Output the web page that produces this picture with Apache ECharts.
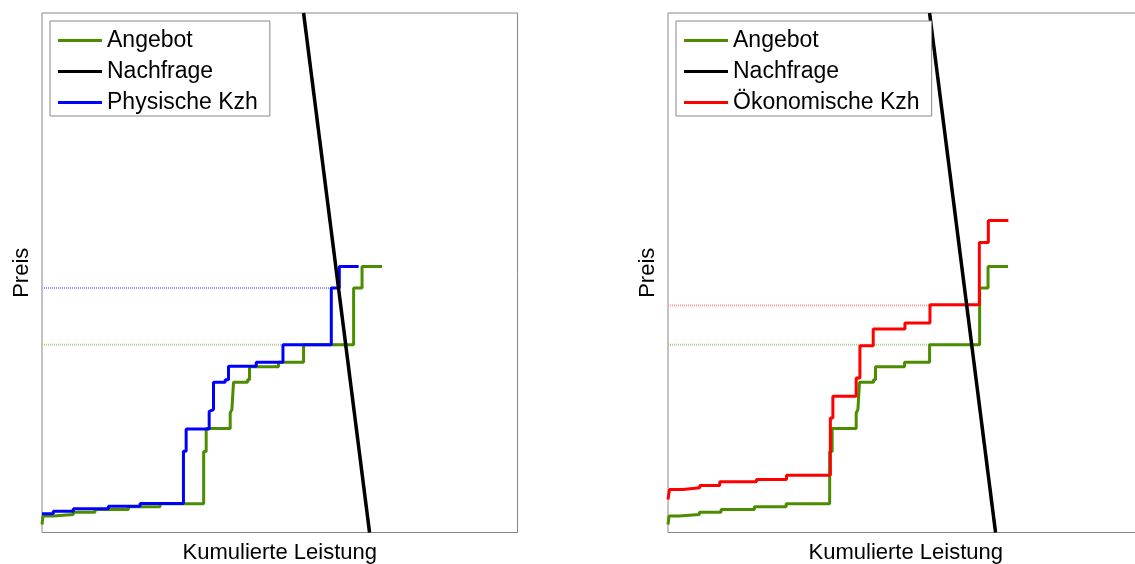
<!DOCTYPE html>
<html>
<head>
<meta charset="utf-8">
<script src="https://cdn.jsdelivr.net/npm/echarts/dist/echarts.min.js"></script>
<style>
html,body{margin:0;padding:0;background:#fff;}
#chart{width:1135px;height:564px;}
</style>
</head>
<body>
<div id="chart"></div>
<script>
// Supply curve (Angebot): level start x and price level (step curve)
var angebotX = [0, 1, 11.3, 31.3, 53, 86.3, 118, 161.5, 164, 188, 189.7, 191.3, 205.3, 207.3, 236.3, 261.3, 311.3, 319.7, 339.7];
var angebotY = [8, 16.5, 18, 20.3, 23, 25.7, 28.7, 81, 104, 119.7, 123, 150.3, 153, 166, 170.3, 188, 244.7, 266.3, 266.3];
// Physische Kzh (left panel)
var physX = [0, 11.3, 31.3, 66.3, 98, 141.3, 144, 167, 168.7, 171.3, 183, 186.3, 214, 240.7, 289, 297, 316.3];
var physY = [18.7, 21.3, 23.7, 26.3, 29, 81.3, 103.7, 121.3, 123, 150.3, 153, 166.3, 170.3, 188, 244.7, 266.3, 266.3];
// Ökonomische Kzh (right panel)
var oekoX = [0, 1.5, 15, 31.7, 51.7, 88.4, 118.4, 162.2, 164.7, 188, 191.7, 205, 236.7, 261.7, 311, 320, 340];
var oekoY = [33, 43, 44.7, 47, 50.7, 53, 57.3, 114.7, 136.3, 154.7, 187, 203.7, 209.7, 228, 290.3, 312.3, 312.3];
// Demand (Nachfrage)
var nachfrageX = [261.3, 327.2];
var nachfrageY = [520, 0];
// Clearing prices
var priceAngebot = 188;
var pricePhys = 244.7;
var priceOeko = 227.3;

var X_MAX = 475, Y_MAX = 520;

function zip(xs, ys){ return xs.map(function(x,i){ return [x, ys[i]]; }); }
function demandXAt(p){
  var t = (p - nachfrageY[0]) / (nachfrageY[1] - nachfrageY[0]);
  return nachfrageX[0] + t * (nachfrageX[1] - nachfrageX[0]);
}
function dotted(p){ return [[0, p], [demandXAt(p), p]]; }

var GREEN = '#4c8c00', BLUE = '#0000ff', RED = '#ff0000', BLACK = '#000000';
var FONT = 'Liberation Sans, Arial, sans-serif';

function axisPair(idx){
  return {
    x: {type:'value', gridIndex: idx, min:0, max:X_MAX, name:'Kumulierte Leistung', nameLocation:'middle', nameGap:9,
        nameTextStyle:{fontFamily:FONT, fontSize:22, color:'#000'},
        axisLine:{show:false}, axisTick:{show:false}, axisLabel:{show:false}, splitLine:{show:false}},
    y: {type:'value', gridIndex: idx, min:0, max:Y_MAX, name:'Preis', nameLocation:'middle', nameGap:9,
        nameTextStyle:{fontFamily:FONT, fontSize:22, color:'#000'},
        axisLine:{show:false}, axisTick:{show:false}, axisLabel:{show:false}, splitLine:{show:false}}
  };
}
var a0 = axisPair(0), a1 = axisPair(1);

function stepSeries(name, xs, ys, color, idx){
  return {type:'line', name:name, xAxisIndex:idx, yAxisIndex:idx, data:zip(xs, ys), step:'end',
          symbol:'none', lineStyle:{color:color, width:3}, itemStyle:{color:color}, animation:false};
}
function lineSeries(name, data, color, idx, width, type, z){
  return {type:'line', name:name, xAxisIndex:idx, yAxisIndex:idx, data:data, symbol:'none',
          lineStyle:{color:color, width:width, type:type}, itemStyle:{color:color}, animation:false, z:z};
}

var legendCommon = {
  orient:'vertical', top:21, itemWidth:44, itemHeight:3, itemGap:8, icon:'rect',
  padding:[8,12,2,8], backgroundColor:'#fff', borderColor:'#888', borderWidth:1, borderRadius:0,
  textStyle:{fontFamily:FONT, fontSize:23, color:'#000'}, selectedMode:false
};

var option = {
  backgroundColor:'#fff',
  animation:false,
  grid:[
    {left:42, top:13, width:475.5, height:519.5, show:true, borderColor:'#888', borderWidth:1, backgroundColor:'transparent', outerBoundsMode:'none', containLabel:false},
    {left:668, top:13, width:475.5, height:519.5, show:true, borderColor:'#888', borderWidth:1, backgroundColor:'transparent', outerBoundsMode:'none', containLabel:false}
  ],
  xAxis:[a0.x, a1.x],
  yAxis:[a0.y, a1.y],
  legend:[
    Object.assign({}, legendCommon, {left:50, data:['Angebot','Nachfrage','Physische Kzh']}),
    Object.assign({}, legendCommon, {left:676, data:['Angebot','Nachfrage','Ökonomische Kzh']})
  ],
  series:[
    lineSeries('dotA0', dotted(priceAngebot), '#a9cd88', 0, 2, [1,1], 1),
    lineSeries('dotP0', dotted(pricePhys), '#9494ff', 0, 2, [1,1], 1),
    stepSeries('Angebot', angebotX, angebotY, GREEN, 0),
    stepSeries('Physische Kzh', physX, physY, BLUE, 0),
    lineSeries('Nachfrage', zip(nachfrageX, nachfrageY), BLACK, 0, 3.5, 'solid', 3),
    lineSeries('dotA1', dotted(priceAngebot), '#a9cd88', 1, 2, [1,1], 1),
    lineSeries('dotO1', dotted(priceOeko), '#ff9a9a', 1, 2, [1,1], 1),
    stepSeries('Angebot', angebotX, angebotY, GREEN, 1),
    stepSeries('Ökonomische Kzh', oekoX, oekoY, RED, 1),
    lineSeries('Nachfrage', zip(nachfrageX, nachfrageY), BLACK, 1, 3.5, 'solid', 3)
  ]
};
var chart = echarts.init(document.getElementById('chart'), null, {renderer:'canvas'});
chart.setOption(option);
</script>
</body>
</html>
